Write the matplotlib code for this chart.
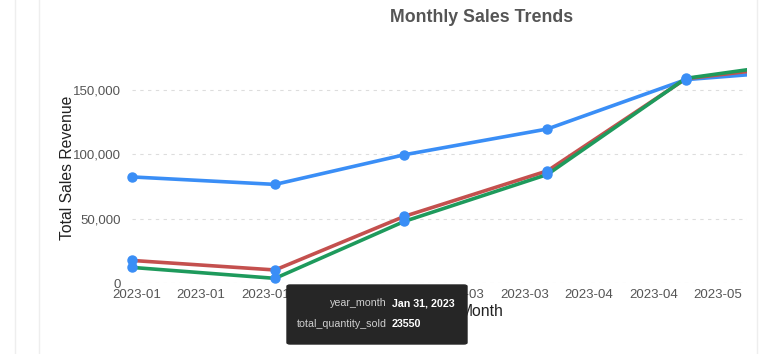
import numpy as np
import pandas as pd
import matplotlib
matplotlib.use("Agg")
import matplotlib.pyplot as plt
import matplotlib.dates as mdates
from matplotlib.ticker import FuncFormatter, MultipleLocator, FixedLocator
from matplotlib.patches import FancyBboxPatch
from matplotlib.lines import Line2D

plt.rcParams['font.family'] = ['Liberation Sans', 'DejaVu Sans']

# month-end dates
months = pd.to_datetime(["2022-12-31", "2023-01-31", "2023-02-28",
                         "2023-03-31", "2023-04-30", "2023-05-31"])
revenue_a = [82300, 76500, 99500, 119500, 157800, 166500]   # blue
revenue_b = [17500, 10100, 51700, 87000, 158500, 171500]    # red
revenue_c = [12100, 3600, 47800, 84200, 158800, 174300]     # green

tip_labels = ["year_month", "total_quantity_sold"]
tip_values = ["Jan 31, 2023", "23550"]

blue = "#3a8ef6"
red = "#c4504e"
green = "#1e9a5c"

W, H = 782, 354
fig = plt.figure(figsize=(W / 100, H / 100), dpi=100)
ax = fig.add_axes([132 / W, 1 - 283 / H, (747 - 132) / W, (283 - 30) / H])

ax.plot(months, revenue_a, color=blue, lw=2.6, zorder=3)
ax.plot(months, revenue_b, color=red, lw=2.6, zorder=3)
ax.plot(months, revenue_c, color=green, lw=2.6, zorder=4)
for vals in [revenue_a, revenue_b, revenue_c]:
    ax.plot(months, vals, ls="none", marker="o", ms=6.5, color=blue,
            mec=blue, zorder=5, clip_on=False)

ax.set_xlim(pd.Timestamp("2022-12-31"), pd.Timestamp("2023-05-13 06:00"))
ax.set_ylim(0, 196300)

# ticks every two weeks from Jan 1
tick_days = pd.date_range("2023-01-01", "2023-05-13", freq="14D")
ax.xaxis.set_major_locator(FixedLocator(mdates.date2num(tick_days)))
ax.xaxis.set_major_formatter(mdates.DateFormatter("%Y-%m"))
ax.yaxis.set_major_locator(MultipleLocator(50000))
ax.yaxis.set_major_formatter(FuncFormatter(lambda v, p: f"{int(v):,}"))

ax.tick_params(axis="both", length=0, labelsize=9.5, labelcolor="#555555")
ax.tick_params(axis="x", pad=4)
ax.tick_params(axis="y", pad=8)
for s in ax.spines.values():
    s.set_visible(False)
ax.grid(axis="y", color="#dddddd", ls=(0, (3, 4)), lw=0.8)
ax.set_axisbelow(True)

fig.text(482 / W, 1 - 17 / H, "Monthly Sales Trends", ha="center", va="center",
         fontsize=12.8, fontweight="bold", color="#555555")
fig.text(67 / W, 1 - 168 / H, "Total Sales Revenue", rotation=90, ha="center",
         va="center", fontsize=11.3, color="#222222")
fig.text(482 / W, 1 - 312 / H, "Month", ha="center", va="center",
         fontsize=11.3, color="#222222")

# container borders
for xp in [15, 39, 757]:
    fig.add_artist(Line2D([xp / W, xp / W], [0, 1], color="#eeeeee", lw=1))

# tooltip
box = FancyBboxPatch((287 / W, 1 - 344 / H), (467 - 287) / W, (344 - 285) / H,
                     boxstyle="round,pad=0,rounding_size=0.004",
                     transform=fig.transFigure, facecolor="#262626",
                     edgecolor="#262626", zorder=10)
fig.add_artist(box)
for i, (lab, val) in enumerate(zip(tip_labels, tip_values)):
    yy = 1 - (303 + 21 * i) / H
    fig.text(387 / W, yy, lab, ha="right", va="center", fontsize=7.7,
             color="#cfcfcf", zorder=11)
    fig.text(392 / W, yy, val, ha="left", va="center", fontsize=7.7,
             color="white", fontweight="bold", zorder=11)

fig.savefig("out.png", dpi=100)
